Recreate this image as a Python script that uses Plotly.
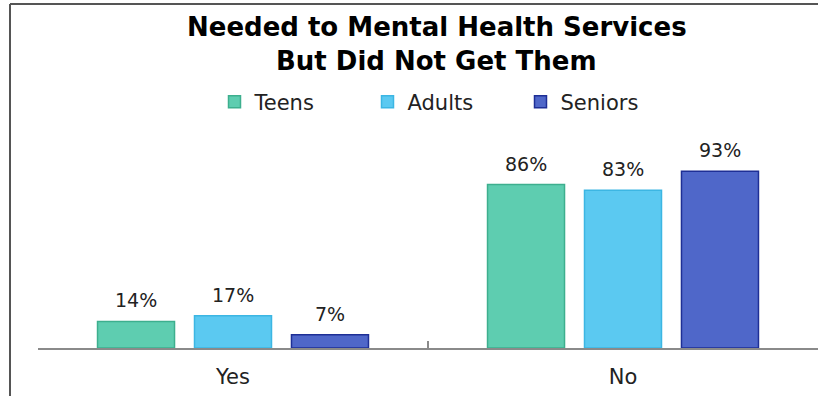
import plotly.graph_objects as go

categories = ["Yes", "No"]
series_names = ["Teens", "Adults", "Seniors"]
teens = [14, 86]
adults = [17, 83]
seniors = [7, 93]
values = [teens, adults, seniors]
title_lines = ["Needed to Mental Health Services", "But Did Not Get Them"]
fill_colors = ["#5ECDB0", "#5BC9F1", "#4F67C9"]
line_colors = ["#3DAF8E", "#3CB6E3", "#1E2F96"]

BARGAP = 0.254
FONT = "DejaVu Sans"
W, H = 818, 396
ML, MR, MT, MB = 38, 0, 158, 48
PW, PH = W - ML - MR, H - MT - MB


def px_x(px):
    return (px - ML) / PW


def px_y(py):
    return (H - MB - py) / PH


fig = go.Figure()
for name, vals, fc, lc in zip(series_names, values, fill_colors, line_colors):
    fig.add_trace(go.Bar(
        x=categories, y=vals, name=name,
        marker=dict(color=fc, line=dict(color=lc, width=1.5)),
        cliponaxis=False,
    ))

# value labels above each bar (positions follow the grouped bar layout)
n = len(series_names)
slot = (1 - BARGAP) / n
annotations = []
for i, vals in enumerate(values):
    for j, v in enumerate(vals):
        annotations.append(dict(
            x=j + (i - (n - 1) / 2) * slot, y=v, xref="x", yref="y",
            text=f"{v}%", showarrow=False, yanchor="bottom", yshift=8,
            font=dict(family=FONT, size=19, color="#222222"),
        ))

for k, line in enumerate(title_lines):
    annotations.append(dict(
        x=px_x(437), y=px_y(27 + 34 * k), xref="paper", yref="paper",
        text=f"<b>{line}</b>", showarrow=False, xanchor="center", yanchor="middle",
        font=dict(family=FONT, size=26, color="#000000"),
    ))

fig.update_layout(
    width=W, height=H,
    margin=dict(l=ML, r=MR, t=MT, b=MB),
    paper_bgcolor="white", plot_bgcolor="white",
    barmode="group", bargap=BARGAP, bargroupgap=0.206,
    legend=dict(
        orientation="h", x=444 / W, xanchor="center", xref="container",
        y=1 - 102 / H, yanchor="middle", yref="container",
        font=dict(family=FONT, size=21, color="#222222"),
        entrywidth=108, entrywidthmode="pixels",
        traceorder="normal",
    ),
    xaxis=dict(
        range=[-0.5, 1.5], showline=True, linecolor="#8A8A8A", linewidth=2,
        ticks="inside", tickson="boundaries", ticklen=7, tickcolor="#8A8A8A", tickwidth=1.5,
        tickfont=dict(family=FONT, size=21, color="#222222"),
        ticklabelstandoff=9,
        showgrid=False, zeroline=False,
    ),
    yaxis=dict(range=[0, 100], visible=False, showgrid=False, zeroline=False),
    annotations=annotations,
    shapes=[
        dict(type="line", xref="paper", yref="paper",
             x0=px_x(10), x1=1.0, y0=px_y(4), y1=px_y(4),
             line=dict(color="#555555", width=2)),
        dict(type="line", xref="paper", yref="paper",
             x0=px_x(10), x1=px_x(10), y0=px_y(4), y1=px_y(H),
             line=dict(color="#555555", width=2)),
    ],
)

fig.write_html("out.html")
